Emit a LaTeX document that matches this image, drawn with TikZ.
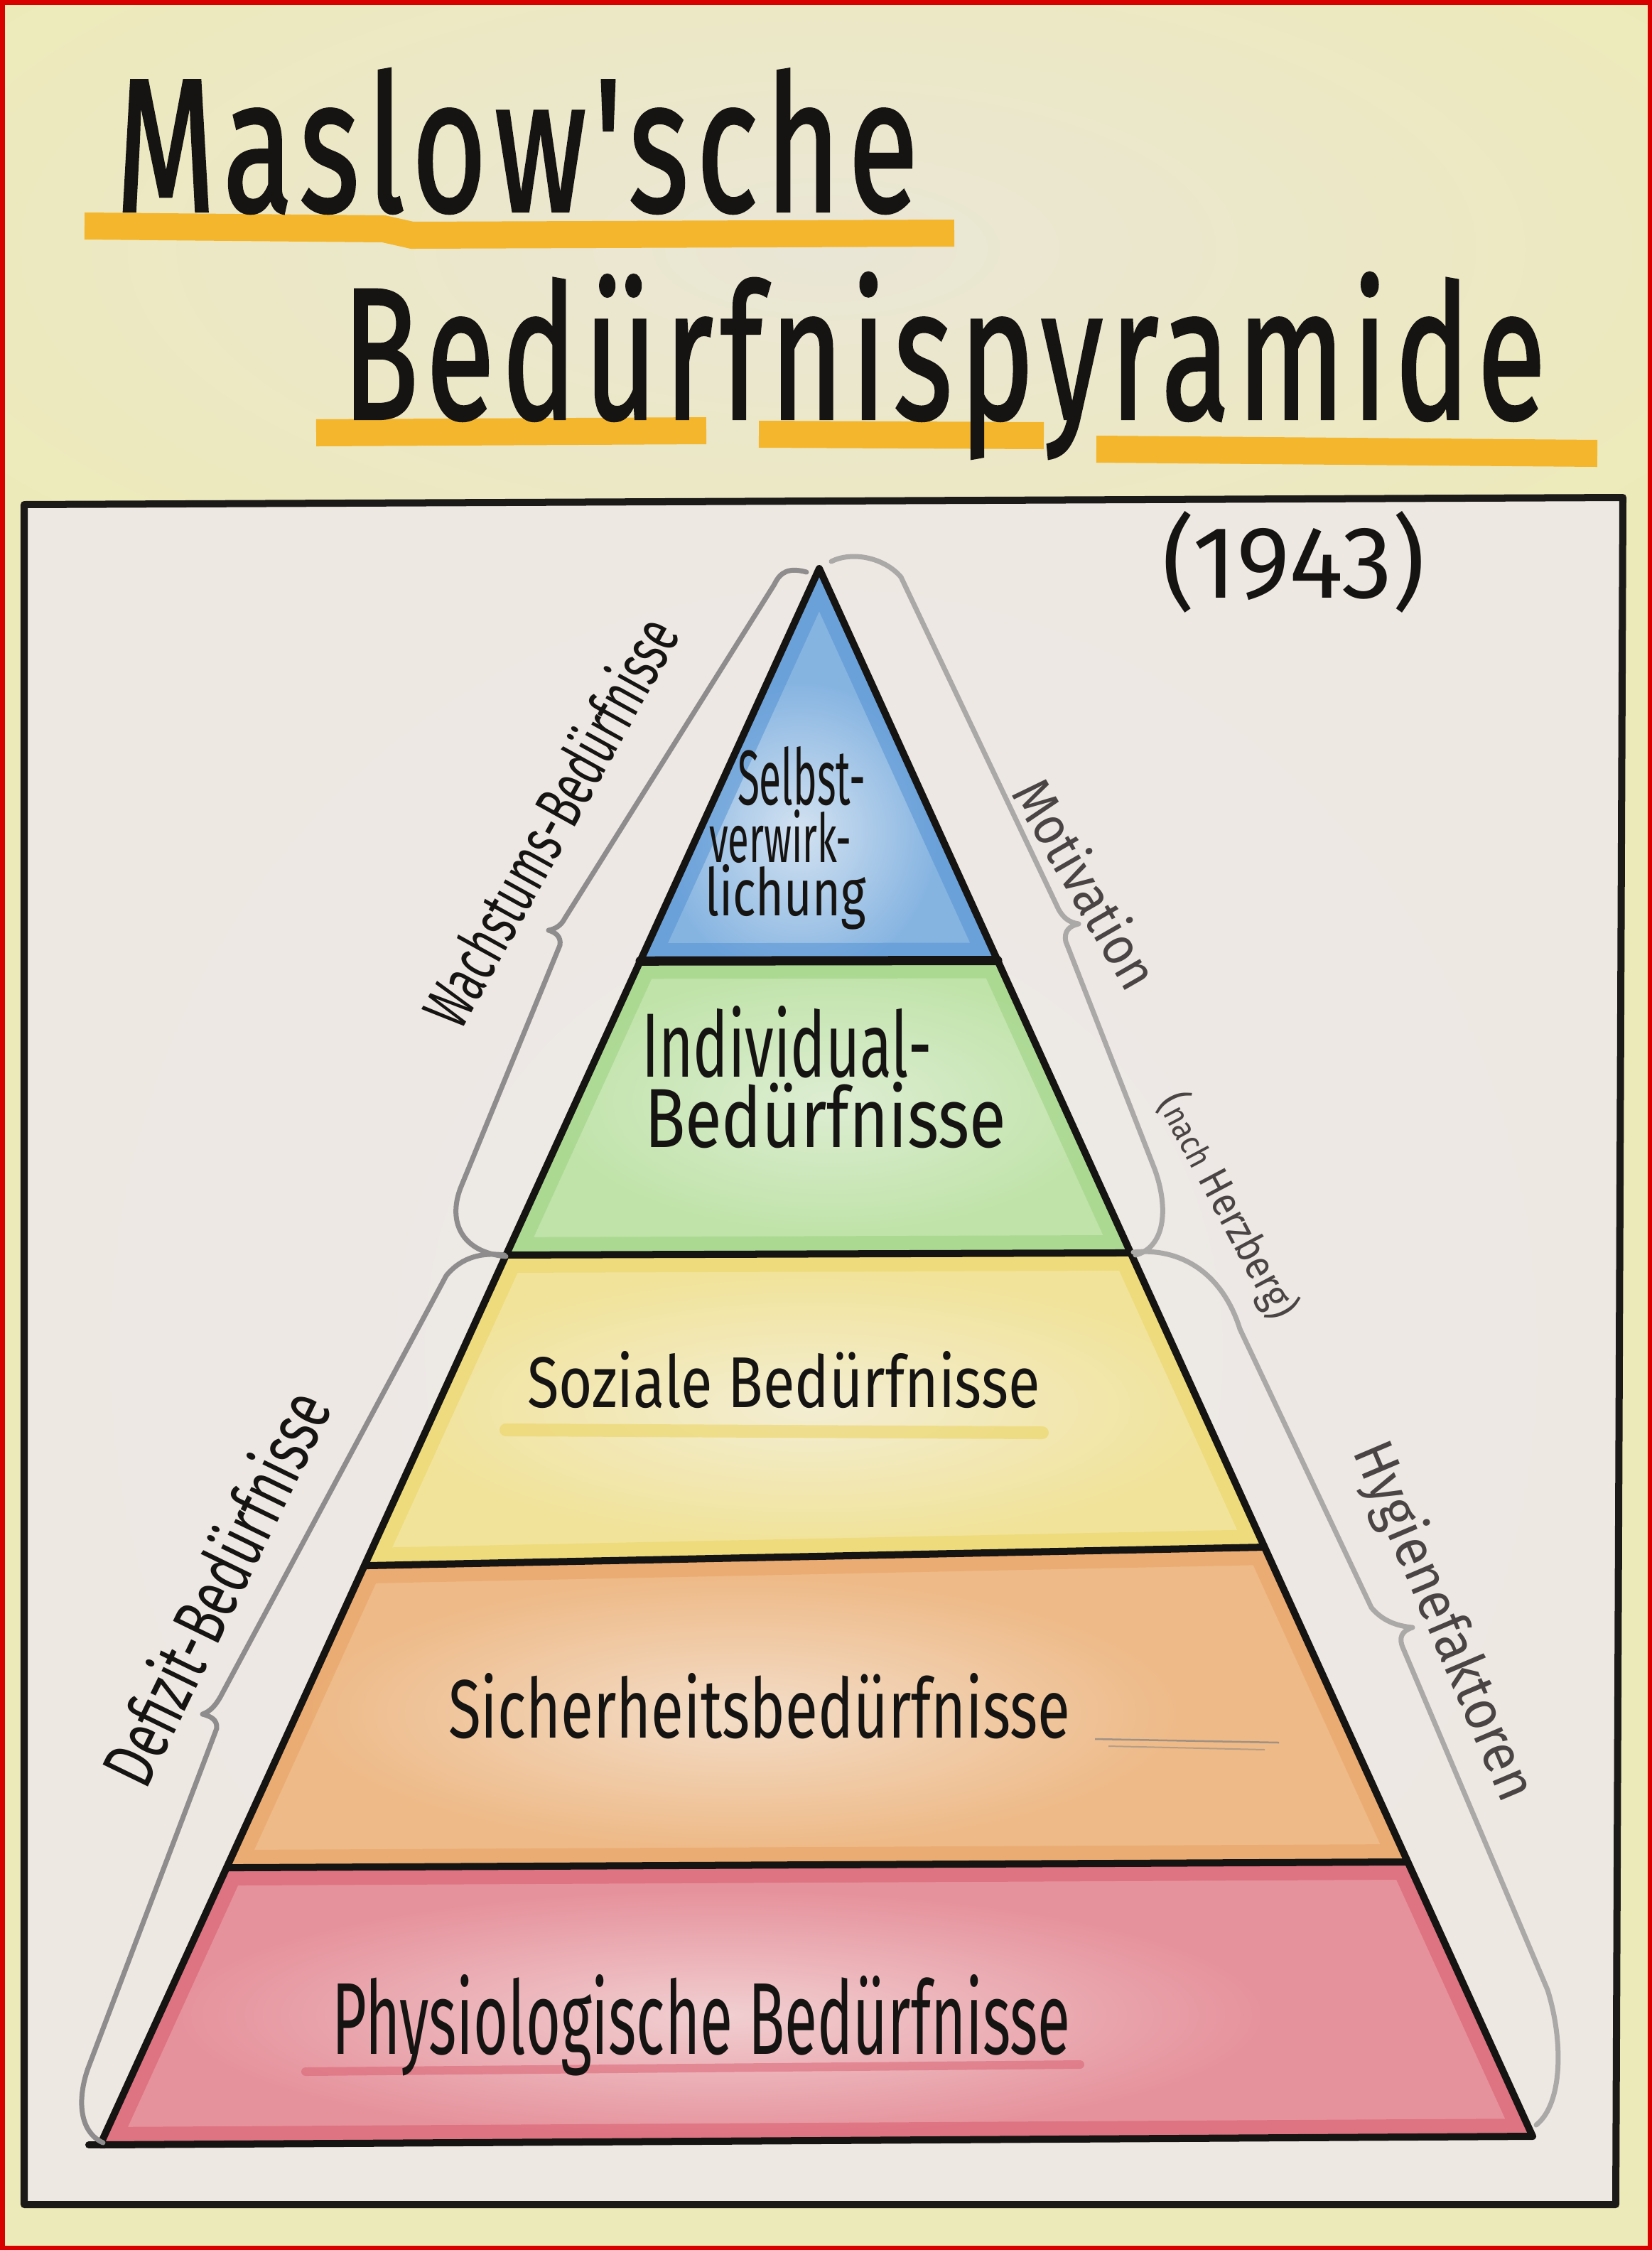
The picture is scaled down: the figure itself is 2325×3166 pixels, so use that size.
\documentclass[tikz,border=0pt]{standalone}
\usepackage{fontspec}
\usepackage{graphicx}
\newfontfamily\hand{Fira Sans}
\newfontfamily\handT[FakeBold=1.6,LetterSpace=6]{Fira Sans}
\usetikzlibrary{calc}
\definecolor{pageY}{HTML}{EDEAB9}
\definecolor{pageT}{HTML}{EAE6D6}
\definecolor{paperC}{HTML}{EEE9E8}
\definecolor{paperE}{HTML}{ECE8DA}
\definecolor{inkc}{HTML}{161412}
\definecolor{grayInk}{HTML}{4A4444}
\definecolor{markO}{HTML}{F4B62C}
\definecolor{frameC}{HTML}{1C1A18}
\definecolor{braceLc}{HTML}{8E8C8C}
\definecolor{braceRc}{HTML}{ABA8A8}
\definecolor{blueB}{HTML}{86B4E1}
\definecolor{blueL}{HTML}{D3E2F1}
\definecolor{blueD}{HTML}{5593D4}
\definecolor{greenB}{HTML}{BFE3A8}
\definecolor{greenL}{HTML}{DDEDD2}
\definecolor{greenD}{HTML}{9BD180}
\definecolor{yelB}{HTML}{F1E39A}
\definecolor{yelL}{HTML}{F3EDD2}
\definecolor{yelD}{HTML}{ECD565}
\definecolor{oraB}{HTML}{EEBA88}
\definecolor{oraL}{HTML}{F3DDC8}
\definecolor{oraD}{HTML}{E8A263}
\definecolor{redB}{HTML}{E6929C}
\definecolor{redL}{HTML}{F1CFD1}
\definecolor{redD}{HTML}{D95C6E}
\begin{document}
\begin{tikzpicture}[x=0.01cm,y=-0.01cm,
  ink/.style={text=inkc, inner sep=0pt, outer sep=0pt},
  gink/.style={text=grayInk, inner sep=0pt, outer sep=0pt},
  markline/.style={draw=markO, line width=0.38cm, line cap=butt},
  layerline/.style={draw=inkc, line width=0.1cm, line cap=round},
  lbrace/.style={draw=braceLc, line width=0.07cm, line cap=round, line join=round},
  rbrace/.style={draw=braceRc, line width=0.07cm, line cap=round, line join=round},
  band/.style={line width=0.5cm, opacity=0.55}]
\useasboundingbox (0,0) rectangle (2325,3166);
% page background
\fill[pageY] (0,0) rectangle (2325,3166);
\shade[inner color=pageT, outer color=pageY] (-300,-250) rectangle (2625,950);
% frame interior
\shade[inner color=paperC, outer color=paperE] (34,710) -- (2284,700) -- (2274,3102) -- (34,3102) -- cycle;
\fill[paperC, opacity=0.6] (34,710) -- (2284,700) -- (2274,3102) -- (34,3102) -- cycle;
% red outline of the image
\draw[red!85!black, line width=0.07cm] (3,3) rectangle (2322,3163);

% title underlines
\draw[markline] (119,318) -- (540,322) -- (580,331) -- (1343,328);
\draw[markline] (445,609) -- (994,606);
\draw[markline] (1068,611) -- (1469,613);
\draw[markline] (1543,632) -- (2248,638);

% title
\node[ink, anchor=base west] (title1) at (163,297) {\resizebox{11.28cm}{2.0cm}{\handT Maslow'sche}};
\node[ink, anchor=base west] (title2) at (482,589) {\resizebox{16.92cm}{2.05cm}{\handT Bedürfnispyramide}};

% frame
\draw[frameC, line width=0.1cm, line join=round] (34,710) -- (2284,700) -- (2274,3102) -- (34,3102) -- cycle;

\node[ink, anchor=base west] (year) at (1635,841) {\resizebox{3.71cm}{1.22cm}{\hand (1943)}};

% pyramid geometry
\coordinate (A) at (1153,800);
\coordinate (BL) at (141,3018);
\coordinate (BR) at (2157,3006);
\coordinate (L1) at ($(A)!0.249!(BL)$);
\coordinate (R1) at ($(A)!0.250!(BR)$);
\coordinate (L2) at ($(A)!0.4355!(BL)$);
\coordinate (R2) at ($(A)!0.4365!(BR)$);
\coordinate (L3) at ($(A)!0.6326!(BL)$);
\coordinate (R3) at ($(A)!0.6242!(BR)$);
\coordinate (L4) at ($(A)!0.8242!(BL)$);
\coordinate (R4) at ($(A)!0.825!(BR)$);

% blue layer
\begin{scope}
 \clip (A)--(L1)--(R1)--cycle;
 \fill[blueB] (A)--(L1)--(R1)--cycle;
 \shade[inner color=blueL, outer color=blueB] (930,960) rectangle (1320,1380);
 \draw[blueD, band] (A)--(L1)--(R1)--cycle;
\end{scope}
% green layer
\begin{scope}
 \clip (L1)--(L2)--(R2)--(R1)--cycle;
 \fill[greenB] (L1)--(L2)--(R2)--(R1)--cycle;
 \shade[inner color=greenL, outer color=greenB] (760,1360) rectangle (1580,1740);
 \draw[greenD, band] (L1)--(L2)--(R2)--(R1)--cycle;
\end{scope}
% yellow layer
\begin{scope}
 \clip (L2)--(L3)--(R3)--(R2)--cycle;
 \fill[yelB] (L2)--(L3)--(R3)--(R2)--cycle;
 \shade[inner color=yelL, outer color=yelB] (560,1790) rectangle (1720,2170);
 \draw[yelD, band] (L2)--(L3)--(R3)--(R2)--cycle;
 \draw[yelD, line width=0.18cm, opacity=0.6, line cap=round] (712,2012) -- (1467,2016);
\end{scope}
% orange layer
\begin{scope}
 \clip (L3)--(L4)--(R4)--(R3)--cycle;
 \fill[oraB] (L3)--(L4)--(R4)--(R3)--cycle;
 \shade[inner color=oraL, outer color=oraB] (430,2220) rectangle (1660,2600);
 \draw[oraD, band] (L3)--(L4)--(R4)--(R3)--cycle;
 \draw[gray, line width=0.025cm, opacity=0.7] (1541,2447) -- (1800,2452);
 \draw[gray, line width=0.02cm, opacity=0.5] (1560,2457) -- (1780,2462);
\end{scope}
% red layer
\begin{scope}
 \clip (L4)--(BL)--(BR)--(R4)--cycle;
 \fill[redB] (L4)--(BL)--(BR)--(R4)--cycle;
 \shade[inner color=redL, outer color=redB] (250,2660) rectangle (1780,3010);
 \draw[redD, band] (L4)--(BL)--(BR)--(R4)--cycle;
 \draw[redD, line width=0.12cm, opacity=0.5, line cap=round] (430,2915) -- (1520,2905);
\end{scope}

% pyramid outline and layer lines
\draw[layerline, line join=round] (A) -- (BL) -- (BR) -- cycle;
\draw[layerline, line width=0.13cm] (L1) -- (R1);
\draw[layerline] (L2) -- (R2);
\draw[layerline] (L3) -- (R3);
\draw[layerline] (L4) -- (R4);
\draw[layerline] (BL) -- ++(-16,0);

% layer labels
\node[ink, anchor=base west] (s1) at (1038,1132) {\resizebox{1.8cm}{0.82cm}{\hand Selbst-}};
\node[ink, anchor=base west] (s2) at (998,1213) {\resizebox{2.0cm}{0.74cm}{\hand verwirk-}};
\node[ink, anchor=base west] (s3) at (992,1288) {\resizebox{2.27cm}{0.72cm}{\hand lichung}};
\node[ink, anchor=base west] (i1) at (903,1515) {\resizebox{4.08cm}{1.0cm}{\hand Individual-}};
\node[ink, anchor=base west] (i2) at (907,1614) {\resizebox{5.09cm}{0.92cm}{\hand Bedürfnisse}};
\node[ink, anchor=base west] (soz) at (742,1980) {\resizebox{7.21cm}{0.79cm}{\hand Soziale Bedürfnisse}};
\node[ink, anchor=base west] (sich) at (631,2445) {\resizebox{8.75cm}{0.91cm}{\hand Sicherheitsbedürfnisse}};
\node[ink, anchor=base west] (phys) at (467,2890) {\resizebox{10.39cm}{1.12cm}{\hand Physiologische Bedürfnisse}};

% braces
\draw[lbrace] (1135,805) .. controls (1110,798) and (1098,805) .. (1090,822)
  -- (795,1292) .. controls (790,1302) and (782,1307) .. (772,1309)
  .. controls (782,1312) and (790,1318) .. (788,1330)
  -- (648,1672) .. controls (630,1720) and (650,1762) .. (712,1768);
\draw[lbrace] (710,1766) .. controls (680,1762) and (650,1768) .. (628,1795)
  -- (310,2388) .. controls (303,2400) and (296,2408) .. (285,2412)
  .. controls (297,2415) and (306,2420) .. (305,2432)
  -- (124,2910) .. controls (108,2955) and (112,3000) .. (145,3015);
\draw[rbrace] (1170,790) .. controls (1200,775) and (1245,785) .. (1268,812)
  -- (1490,1280) .. controls (1497,1292) and (1505,1298) .. (1518,1300)
  .. controls (1505,1303) and (1497,1310) .. (1500,1325)
  -- (1625,1645) .. controls (1645,1700) and (1640,1755) .. (1598,1766);
\draw[rbrace] (1595,1762) .. controls (1660,1755) and (1720,1790) .. (1745,1870)
  -- (1930,2262) .. controls (1945,2280) and (1965,2288) .. (1988,2290)
  .. controls (1972,2295) and (1968,2305) .. (1975,2320)
  -- (2178,2800) .. controls (2200,2870) and (2200,2960) .. (2162,2990);

% side labels
\node[ink, rotate=61] (wachs) at (773,1155) {\resizebox{6.4cm}{0.72cm}{\hand Wachstums-Bedürfnisse}};
\node[ink, rotate=64] (defiz) at (302,2233) {\resizebox{6.0cm}{0.8cm}{\hand Defizit-Bedürfnisse}};
\node[gink, rotate=-60] (motiv) at (1530,1243) {\resizebox{3.26cm}{0.6cm}{\hand Motivation}};
\node[gink, rotate=-62] (herz) at (1727,1697) {\resizebox{3.5cm}{0.5cm}{\hand ({\footnotesize nach} Herzberg)}};
\node[gink, rotate=-67] (hyg) at (2030,2282) {\resizebox{5.4cm}{0.62cm}{\hand Hygienefaktoren}};
\end{tikzpicture}
\end{document}
